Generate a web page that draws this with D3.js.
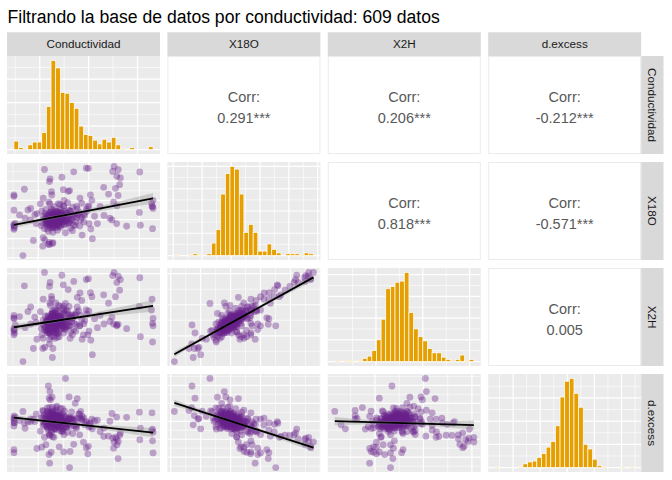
<!DOCTYPE html>
<html>
<head>
<meta charset="utf-8">
<script src="https://cdn.jsdelivr.net/npm/d3@7"></script>
<style>
  body { margin: 0; background: #fff; }
  text { font-family: "Liberation Sans", Arial, Helvetica, sans-serif; }
</style>
</head>
<body>
<script>
// variable names, used for the strips
const varNames = ["Conductividad", "X18O", "X2H", "d.excess"];
const title = "Filtrando la base de datos por conductividad: 609 datos";

// scatter data (one entry per sample)
const cond = [600,690,560,650,720,820,530,610,640,665,
  700,760,590,850,680,910,545,600,630,655,
  670,690,715,745,780,805,640,870,585,950,
  560,615,635,648,662,675,700,725,750,790,
  830,880,605,930,685,550,595,625,650,668,
  690,710,740,770,815,855,900,640,960,570,
  620,660,695,735,775,820,865,910,980,640,
  720,800,885,660,750,840,1000,700,790,930,
  349,562,975,996,851,1250,1236,1291,1504,734,
  1277,1312,617,611,363,748,796,260,1147,1264,
  1305,1195,1290,1016,913,549,631,634,1030,260,
  315,398,425,1500,1635,1620,1630,1510,1374,1275,
  1209,1020,1035,934,645,612,545,260,260,260,
  1630,262,265,272,260,769,810,613,628,535,
  487,576,707,752,815,947,990,606,655,615,
  620,886,805,637,600,608,565,640,452,549,
  1635,1625,1245,1278,1150,1229,425,480,466,1057,
  1085,975,879,714,645,838,755,672,920,590,
  1112,370,521,865,741,1002,
  640,705,590,675,730,615,655,760,580,690,
  625,665,710,600,790,570,640,680,720,650,
  610,660,700,745,635,585,620,672,695,735,
  600,810,645,660,705,580,765,625,690,615,
  650,670,700,740,595,830,630,655,685,720,
  600,775,645,610,665,695,730,640,575,625,
  680,710,750,655,800,600,650,690,725,670,
  635,705,760,585,680,620,665,715,840,645,
  690,740,605,660,700,780,630,720,675,690,
  760,650,700,620,680,655,685,712,640,668,
  662,690,638,715,658,697,628,672,648,735];

const x18O = [-7.62,-7.56,-7.47,-7.42,-7.40,-7.45,-7.33,-7.30,-7.25,-7.35,
  -7.22,-7.28,-7.21,-7.30,-7.26,-7.34,-7.18,-7.10,-7.15,-7.05,
  -7.12,-7.18,-7.08,-7.14,-7.06,-7.16,-7.09,-7.11,-7.04,-7.13,
  -6.98,-6.92,-7.00,-6.95,-6.90,-7.02,-6.94,-6.89,-6.97,-6.93,
  -6.99,-6.91,-6.96,-6.88,-7.03,-6.84,-6.78,-6.86,-6.75,-6.81,
  -6.73,-6.87,-6.79,-6.82,-6.76,-6.85,-6.74,-6.80,-6.77,-6.68,
  -6.62,-6.70,-6.60,-6.66,-6.64,-6.58,-6.69,-6.63,-6.57,-6.50,
  -6.46,-6.52,-6.44,-6.33,-6.28,-6.35,-6.30,-6.17,-6.12,-6.15,
  -8.88,-4.39,-4.32,-4.33,-4.51,-4.23,-4.49,-4.40,-4.52,-4.79,
  -4.74,-4.83,-4.88,-5.02,-5.42,-5.44,-5.53,-5.72,-5.32,-5.37,
  -5.18,-5.67,-5.74,-5.71,-5.88,-5.89,-5.54,-5.72,-6.00,-6.51,
  -6.76,-6.50,-6.42,-6.63,-6.42,-6.14,-6.32,-7.30,-7.35,-7.21,
  -6.93,-7.49,-8.00,-7.81,-8.21,-8.30,-8.39,-7.51,-7.25,-7.32,
  -7.48,-7.44,-7.34,-7.20,-5.79,-7.69,-5.49,-6.18,-6.46,-6.56,
  -6.69,-6.47,-6.65,-6.32,-6.55,-6.74,-6.33,-6.09,-6.79,-7.21,
  -7.02,-6.74,-7.16,-7.44,-8.29,-8.19,-8.06,-8.25,-8.09,-7.95,
  -6.00,-6.32,-6.09,-6.28,-6.79,-7.02,-7.02,-7.21,-6.74,-6.83,
  -7.21,-6.46,-6.32,-6.23,-7.67,-7.58,-6.00,-6.56,-7.02,-7.49,
  -6.32,-6.93,-6.18,-7.30,-6.83,-7.21,
  -7.32,-7.32,-7.32,-7.27,-7.27,-7.27,-7.23,-7.23,-7.23,-7.23,
  -7.19,-7.19,-7.19,-7.19,-7.19,-7.15,-7.15,-7.15,-7.15,-7.15,
  -7.11,-7.11,-7.11,-7.11,-7.11,-7.11,-7.07,-7.07,-7.07,-7.07,
  -7.07,-7.07,-7.03,-7.03,-7.03,-7.03,-7.03,-7.03,-7.03,-6.99,
  -6.99,-6.99,-6.99,-6.99,-6.99,-6.99,-6.95,-6.95,-6.95,-6.95,
  -6.95,-6.95,-6.95,-6.91,-6.91,-6.91,-6.91,-6.91,-6.91,-6.87,
  -6.87,-6.87,-6.87,-6.87,-6.87,-6.83,-6.83,-6.83,-6.83,-6.83,
  -6.79,-6.79,-6.79,-6.79,-6.79,-6.75,-6.75,-6.75,-6.75,-6.71,
  -6.71,-6.71,-6.71,-6.67,-6.67,-6.67,-6.62,-6.62,-6.62,-6.57,
  -6.57,-7.37,-7.37,-7.42,-7.42,-7.05,-7.05,-7.05,-7.05,-7.05,
  -6.97,-6.97,-6.97,-6.97,-7.13,-7.13,-7.13,-6.89,-6.89,-6.89];

const x2H = [-48.3,-50.5,-48.0,-50.2,-45.6,-48.8,-47.7,-46.0,-48.2,-50.8,
  -46.6,-45.4,-49.0,-48.0,-44.3,-46.7,-46.3,-47.9,-45.7,-46.1,
  -49.0,-44.8,-46.8,-45.1,-47.2,-46.7,-42.8,-48.5,-45.1,-46.1,
  -46.7,-44.4,-45.9,-43.6,-47.3,-45.5,-46.0,-43.7,-47.2,-45.5,
  -43.3,-46.3,-49.1,-44.7,-42.0,-45.0,-43.6,-46.6,-44.0,-42.8,
  -44.9,-43.6,-47.2,-44.8,-43.5,-46.0,-41.9,-48.7,-45.1,-43.6,
  -44.7,-42.7,-43.6,-46.0,-41.8,-44.0,-43.1,-46.8,-43.0,-42.1,
  -44.4,-43.2,-40.7,-41.6,-40.4,-44.2,-42.0,-40.2,-42.0,-38.6,
  -58.3,-29.6,-31.9,-31.6,-32.5,-29.6,-30.6,-30.8,-31.3,-30.5,
  -32.8,-31.9,-32.8,-34.1,-33.9,-33.6,-35.1,-44.5,-36.8,-37.4,
  -35.3,-39.5,-46.3,-36.1,-36.2,-38.2,-37.3,-38.2,-37.4,-43.4,
  -43.8,-42.2,-40.7,-40.5,-44.4,-41.7,-46.0,-50.3,-47.7,-46.5,
  -45.4,-51.4,-56.1,-51.1,-54.1,-52.6,-54.1,-49.7,-48.4,-47.7,
  -52.0,-48.0,-49.1,-46.5,-44.2,-39.6,-46.8,-51.1,-50.3,-49.7,
  -51.1,-48.3,-50.3,-49.1,-50.8,-49.7,-49.7,-48.0,-48.8,-39.4,
  -40.2,-37.6,-40.5,-42.8,-46.5,-49.1,-53.7,-57.0,-54.1,-50.8,
  -46.8,-38.2,-46.2,-46.8,-46.2,-44.0,-46.2,-45.7,-44.0,-44.5,
  -47.4,-41.7,-42.5,-40.5,-48.5,-49.7,-41.7,-39.4,-43.4,-46.2,
  -43.4,-47.4,-42.2,-43.4,-41.1,-48.5,
  -47.0,-48.6,-45.8,-47.7,-46.3,-49.1,-46.9,-47.9,-45.8,-49.3,
  -46.1,-47.2,-45.3,-48.1,-46.8,-47.3,-45.6,-48.2,-46.3,-44.5,
  -46.5,-47.5,-45.6,-46.7,-44.8,-48.5,-45.7,-46.9,-44.9,-47.6,
  -46.0,-45.4,-46.1,-45.0,-46.9,-45.4,-47.8,-44.0,-45.7,-46.2,
  -45.1,-47.0,-44.3,-45.8,-48.1,-45.4,-45.4,-46.4,-44.5,-45.9,
  -43.8,-47.1,-45.1,-45.8,-44.4,-46.4,-45.0,-43.0,-45.4,-44.5,
  -45.7,-43.7,-47.0,-45.0,-44.2,-45.2,-43.7,-45.9,-44.5,-47.0,
  -44.4,-45.2,-43.1,-46.0,-43.9,-44.7,-43.5,-45.9,-44.3,-43.7,
  -45.1,-42.9,-44.3,-44.0,-42.4,-45.1,-43.0,-44.3,-41.7,-43.8,
  -42.6,-47.6,-49.1,-47.3,-48.7,-45.7,-46.5,-46.1,-47.7,-44.6,
  -45.4,-46.4,-44.7,-45.1,-46.4,-45.4,-47.5,-44.7,-45.6,-45.3];

const dExcess = [12.66,9.98,11.76,9.16,13.6,10.8,10.94,12.4,9.8,8.0,
  11.16,12.84,8.68,10.4,13.78,12.02,11.14,8.9,11.5,10.3,
  7.96,12.64,9.84,12.02,9.28,10.58,13.92,8.38,11.22,10.94,
  9.14,10.96,10.1,12.0,7.9,10.66,9.52,11.42,8.56,9.94,
  12.62,8.98,6.58,10.34,14.24,9.72,10.64,8.28,10.0,11.68,
  8.94,11.36,7.12,9.76,10.58,8.8,12.02,5.7,9.06,9.84,
  8.26,10.9,9.2,7.28,11.32,8.64,10.42,6.24,9.56,9.9,
  7.28,8.96,10.82,9.04,9.84,6.6,8.4,9.16,6.96,10.6,
  12.74,5.52,2.66,3.04,3.58,4.24,5.32,4.4,4.86,7.82,
  5.12,6.74,6.24,6.06,9.46,9.92,9.14,1.26,5.76,5.56,
  6.14,5.86,-0.38,9.58,10.84,8.92,7.02,7.56,10.6,8.68,
  10.28,9.8,10.66,12.54,6.96,7.42,4.56,8.1,11.1,11.18,
  10.04,8.52,7.9,11.38,11.58,13.8,13.02,10.38,9.6,10.86,
  7.84,11.52,9.62,11.1,2.12,21.92,-2.88,-1.66,1.38,2.78,
  2.42,3.46,2.9,1.46,1.6,4.22,0.94,0.72,5.52,18.28,
  15.96,16.32,16.78,16.72,19.82,16.42,10.78,9.0,10.62,12.8,
  1.2,12.36,2.52,3.44,8.12,12.16,9.96,11.98,9.92,10.14,
  10.28,9.98,8.06,9.34,12.86,10.94,6.3,13.08,12.76,13.72,
  7.16,8.04,7.24,15.0,13.54,9.18,
  11.56,9.96,12.76,10.46,11.86,9.06,10.94,9.94,12.04,8.54,
  11.42,10.32,12.22,9.42,10.72,9.9,11.6,9.0,10.9,12.7,
  10.38,9.38,11.28,10.18,12.08,8.38,10.86,9.66,11.66,8.96,
  10.56,11.16,10.14,11.24,9.34,10.84,8.44,12.24,10.54,9.72,
  10.82,8.92,11.62,10.12,7.82,10.52,10.2,9.2,11.1,9.7,
  11.8,8.5,10.5,9.48,10.88,8.88,10.28,12.28,9.88,10.46,
  9.26,11.26,7.96,9.96,10.76,9.44,10.94,8.74,10.14,7.64,
  9.92,9.12,11.22,8.32,10.42,9.3,10.5,8.1,9.7,9.98,
  8.58,10.78,9.38,9.36,10.96,8.26,9.96,8.66,11.26,8.76,
  9.96,11.36,9.86,12.06,10.66,10.7,9.9,10.3,8.7,11.8,
  10.36,9.36,11.06,10.66,10.64,11.64,9.54,10.42,9.52,9.82];

// histogram counts on the diagonal, 30 bins each
const condCounts = [9,2,1,5,8,8,18,46,95,87,61,60,50,44,25,16,15,10,6,11,8,13,5,1,0,2,0,0,0,3];
const x18OCounts = [1,0,0,1,2,1,0,2,14,29,69,92,100,97,69,26,35,26,5,5,13,7,3,0,2,2,2,1,3,2];
const x2HCounts = [1,0,1,1,0,1,3,5,10,20,39,67,69,73,74,82,45,30,23,19,12,8,8,4,2,1,2,6,1,2];
const dExcessCounts = [1,0,0,0,0,1,4,6,7,11,15,22,28,45,76,93,96,80,65,25,20,9,2,1,0,0,0,1,0,1];

// axis breaks (no labels shown, only grid lines)
const condBreaks = [500, 1000, 1500];
const x18OBreaks = [-9, -8, -7, -6, -5, -4];
const x2HBreaks = [-50, -40, -30];
const dExcessBreaks = [0, 5, 10, 15, 20];
const countBreaks = [[0, 25, 50, 75], [0, 25, 50, 75, 100], [0, 20, 40, 60, 80], [0, 25, 50, 75]];

// correlation labels of the upper triangle, row by row
const corrLabels = ["0.291***", "0.206***", "-0.212***", "0.818***", "-0.571***", "0.005"];

const vars = [cond, x18O, x2H, dExcess];
const counts = [condCounts, x18OCounts, x2HCounts, dExcessCounts];
const breaks = [condBreaks, x18OBreaks, x2HBreaks, dExcessBreaks];

const W = 672, H = 480;
const leftX = 7, topY = 56, pw = 153, ph = 98, gapX = 7.4, gapY = 8;
const px = c => leftX + c * (pw + gapX);
const py = r => topY + r * (ph + gapY);
const stripW = 22.3, stripH = 23.7;

const svg = d3.select("body").append("svg")
    .attr("width", W)
    .attr("height", H);

svg.append("text")
    .attr("x", 7.5)
    .attr("y", 22.5)
    .attr("font-size", 17.6)
    .attr("fill", "#000")
    .text(title);

const expand = ([a, b]) => { const d = b - a; return [a - d * 0.05, b + d * 0.05]; };

function minorOf(b) {
  const s = b[1] - b[0];
  return [b[0] - s / 2].concat(b.map(v => v + s / 2));
}

function grid(g, xs, ys, xb, yb) {
  const xd = xs.domain(), yd = ys.domain();
  const inX = v => v >= xd[0] && v <= xd[1];
  const inY = v => v >= yd[0] && v <= yd[1];
  const lines = [
    [minorOf(xb).filter(inX), "v", 0.6],
    [minorOf(yb).filter(inY), "h", 0.6],
    [xb.filter(inX), "v", 1.2],
    [yb.filter(inY), "h", 1.2]
  ];
  lines.forEach(([vals, dir, sw]) => {
    g.selectAll(null).data(vals).join("line")
        .attr("x1", d => dir === "v" ? xs(d) : 0)
        .attr("x2", d => dir === "v" ? xs(d) : pw)
        .attr("y1", d => dir === "v" ? 0 : ys(d))
        .attr("y2", d => dir === "v" ? ph : ys(d))
        .attr("stroke", "#fff")
        .attr("stroke-width", sw);
  });
}

function fit(xv, yv) {
  const n = xv.length, mx = d3.mean(xv), my = d3.mean(yv);
  let sxx = 0, sxy = 0;
  for (let i = 0; i < n; i++) {
    sxx += (xv[i] - mx) ** 2;
    sxy += (xv[i] - mx) * (yv[i] - my);
  }
  const b = sxy / sxx, a = my - b * mx;
  let sse = 0;
  for (let i = 0; i < n; i++) sse += (yv[i] - a - b * xv[i]) ** 2;
  return { a, b, n, mx, sxx, s: Math.sqrt(sse / (n - 2)) };
}

let corrIdx = 0;
for (let r = 0; r < 4; r++) {
  for (let c = 0; c < 4; c++) {
    const g = svg.append("g").attr("transform", `translate(${px(c)},${py(r)})`);

    if (r < c) {
      // upper triangle: correlation text
      g.append("rect")
          .attr("x", 0.5).attr("y", 0.5)
          .attr("width", pw - 1).attr("height", ph - 1)
          .attr("fill", "#fff")
          .attr("stroke", "#EBEBEB")
          .attr("stroke-width", 1);
      g.append("text")
          .attr("x", pw / 2).attr("y", ph / 2 - 3.5)
          .attr("text-anchor", "middle")
          .attr("font-size", 14.5)
          .attr("fill", "#595959")
          .text("Corr:");
      g.append("text")
          .attr("x", pw / 2).attr("y", ph / 2 + 18)
          .attr("text-anchor", "middle")
          .attr("font-size", 14.5)
          .attr("fill", "#595959")
          .text(corrLabels[corrIdx++]);
      continue;
    }

    g.append("rect").attr("width", pw).attr("height", ph).attr("fill", "#EBEBEB");
    const clipId = `clip-${r}-${c}`;
    g.append("clipPath").attr("id", clipId)
      .append("rect").attr("width", pw).attr("height", ph);
    const inner = g.append("g").attr("clip-path", `url(#${clipId})`);

    if (r === c) {
      // diagonal: histogram with 30 bins
      const ext = d3.extent(vars[c]);
      const w = (ext[1] - ext[0]) / 29;
      const cts = counts[c];
      const hx = d3.scaleLinear().domain(expand([ext[0] - w / 2, ext[1] + w / 2])).range([0, pw]);
      const hy = d3.scaleLinear().domain(expand([0, d3.max(cts)])).range([ph, 0]);
      grid(inner, hx, hy, breaks[c], countBreaks[c]);
      const bins = cts.map((n, k) => ({ x0: ext[0] - w / 2 + k * w, x1: ext[0] - w / 2 + (k + 1) * w, n }))
          .filter(d => d.n > 0);
      inner.selectAll(null).data(bins).join("rect")
          .attr("x", d => hx(d.x0))
          .attr("width", d => hx(d.x1) - hx(d.x0))
          .attr("y", d => hy(d.n))
          .attr("height", d => hy(0) - hy(d.n))
          .attr("fill", "#E69F00")
          .attr("stroke", "#fff")
          .attr("stroke-width", 0.7);
    } else {
      // lower triangle: scatter + lm fit
      const xv = vars[c], yv = vars[r];
      const xs = d3.scaleLinear().domain(expand(d3.extent(xv))).range([0, pw]);
      const ys = d3.scaleLinear().domain(expand(d3.extent(yv))).range([ph, 0]);
      grid(inner, xs, ys, breaks[c], breaks[r]);

      inner.selectAll(null).data(d3.range(xv.length)).join("circle")
          .attr("cx", i => xs(xv[i]))
          .attr("cy", i => ys(yv[i]))
          .attr("r", 3.4)
          .attr("fill", "#68228B")
          .attr("fill-opacity", 0.38);

      const f = fit(xv, yv);
      const ext = d3.extent(xv);
      const xsamp = d3.range(81).map(k => ext[0] + (ext[1] - ext[0]) * k / 80);
      const se = x => 1.97 * f.s * Math.sqrt(1 / f.n + (x - f.mx) ** 2 / f.sxx);
      inner.append("path")
          .datum(xsamp)
          .attr("fill", "#999999")
          .attr("fill-opacity", 0.4)
          .attr("d", d3.area()
            .x(x => xs(x))
            .y0(x => ys(f.a + f.b * x - se(x)))
            .y1(x => ys(f.a + f.b * x + se(x))));
      inner.append("path")
          .datum(ext)
          .attr("fill", "none")
          .attr("stroke", "#000")
          .attr("stroke-width", 1.8)
          .attr("d", d3.line().x(x => xs(x)).y(x => ys(f.a + f.b * x)));
    }
  }
}

// top strips
varNames.forEach((name, c) => {
  svg.append("rect")
      .attr("x", px(c)).attr("y", topY - stripH)
      .attr("width", pw).attr("height", stripH)
      .attr("fill", "#D9D9D9");
  svg.append("text")
      .attr("x", px(c) + pw / 2).attr("y", topY - stripH / 2 + 4.3)
      .attr("text-anchor", "middle")
      .attr("font-size", 11.7)
      .attr("fill", "#1A1A1A")
      .text(name);
});

// right strips
varNames.forEach((name, r) => {
  const x0 = px(3) + pw;
  svg.append("rect")
      .attr("x", x0).attr("y", py(r))
      .attr("width", stripW).attr("height", ph)
      .attr("fill", "#D9D9D9");
  svg.append("text")
      .attr("transform", `translate(${x0 + stripW / 2},${py(r) + ph / 2}) rotate(90)`)
      .attr("text-anchor", "middle")
      .attr("dy", "0.35em")
      .attr("font-size", 11.7)
      .attr("fill", "#1A1A1A")
      .text(name);
});
</script>
</body>
</html>
